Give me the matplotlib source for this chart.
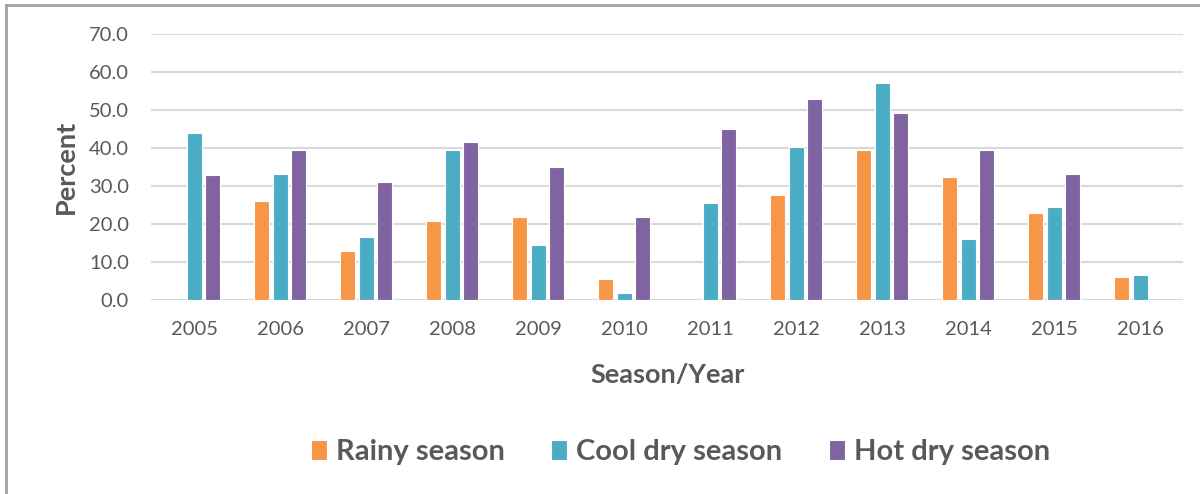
import numpy as np
import matplotlib.pyplot as plt
from matplotlib.lines import Line2D

years = ['2005', '2006', '2007', '2008', '2009', '2010',
         '2011', '2012', '2013', '2014', '2015', '2016']
rainy = [np.nan, 25.9, 12.8, 20.6, 21.7, 5.4, np.nan, 27.5, 39.5, 32.2, 22.8, 6.0]
cool = [43.8, 33.2, 16.4, 39.5, 14.3, 1.7, 25.4, 40.1, 56.9, 15.9, 24.3, 6.5]
hot = [32.7, 39.5, 31.1, 41.6, 34.8, 21.7, 44.8, 52.7, 49.0, 39.5, 33.2, np.nan]

series = [('Rainy season', rainy, '#F79646'),
          ('Cool dry season', cool, '#4BACC6'),
          ('Hot dry season', hot, '#8064A2')]

plt.rcParams['font.family'] = ['Lato', 'DejaVu Sans']
text_grey = '#595959'

fig = plt.figure(figsize=(12, 4.94), dpi=100)
ax = fig.add_axes([0.126, 0.393, 0.860, 0.539])

x = np.arange(len(years))
width = 0.17
step = 0.215
for i, (name, vals, col) in enumerate(series):
    ax.bar(x + (i - 1) * step, vals, width, color=col, edgecolor='white',
           linewidth=0.8, label=name, zorder=3)

ax.set_xlim(-0.5, len(years) - 0.5)
ax.set_ylim(0, 70)
ax.set_yticks(np.arange(0, 71, 10))
ax.set_yticklabels([f'{v:.1f}' for v in np.arange(0, 71, 10)])
ax.set_xticks(x)
ax.set_xticklabels(years)
ax.tick_params(axis='both', length=0, labelsize=14.5, colors=text_grey)
ax.tick_params(axis='y', pad=16)
ax.tick_params(axis='x', pad=15)
ax.grid(axis='y', color='#D9D9D9', linewidth=1.5, zorder=0)
for s in ax.spines.values():
    s.set_visible(False)

ax.set_ylabel('Percent', fontsize=19.5, fontweight='bold', color=text_grey, labelpad=8)
ax.set_xlabel('Season/Year', fontsize=19.5, fontweight='bold', color=text_grey, labelpad=18)

handles, labels = ax.get_legend_handles_labels()
leg = fig.legend(handles, labels, loc='center', bbox_to_anchor=(0.567, 0.085),
                 ncol=3, frameon=False, handlelength=0.55, handleheight=0.7,
                 handletextpad=0.3, columnspacing=1.6,
                 prop={'size': 21, 'weight': 'bold'})
for t in leg.get_texts():
    t.set_color(text_grey)

# outer chart frame (left and top edges visible)
fig.add_artist(Line2D([0.005, 0.005], [0.0, 0.99], color='#A0A0A0', linewidth=2))
fig.add_artist(Line2D([0.005, 1.0], [0.99, 0.99], color='#A0A0A0', linewidth=2))

fig.savefig('out.png', dpi=100)
